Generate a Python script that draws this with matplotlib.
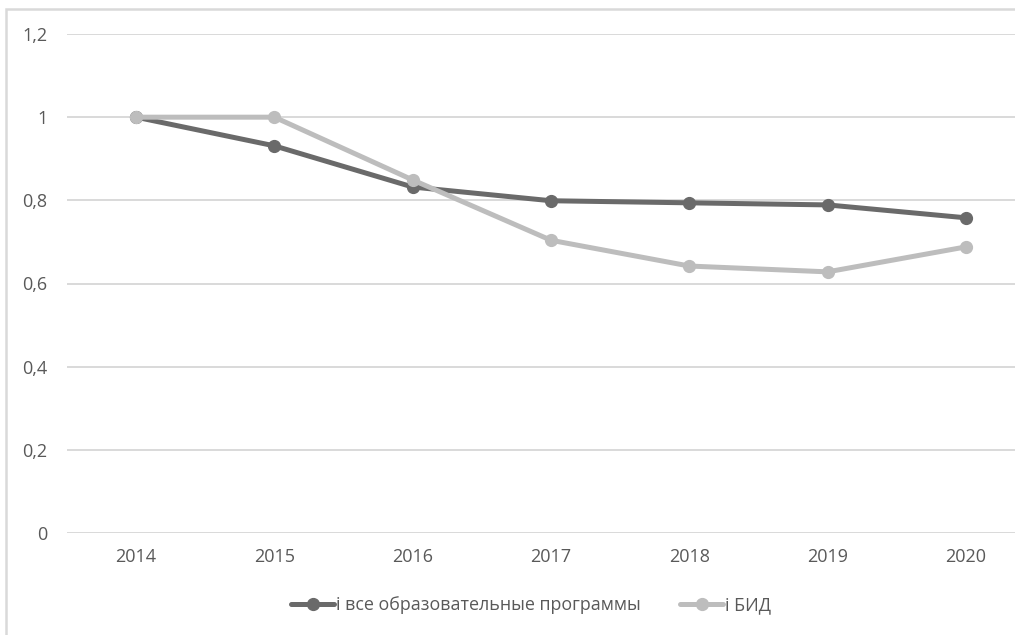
import matplotlib
matplotlib.use("Agg")
import matplotlib.pyplot as plt
from matplotlib.patches import Rectangle

plt.rcParams['font.family'] = ['Open Sans', 'DejaVu Sans']

years = ['2014', '2015', '2016', '2017', '2018', '2019', '2020']
all_programs = [1.0, 0.931, 0.832, 0.799, 0.794, 0.789, 0.758]
bid = [1.0, 1.0, 0.849, 0.704, 0.642, 0.628, 0.688]
series_names = ['і все образовательные программы', 'і БИД']
y_ticks = [0, 0.2, 0.4, 0.6, 0.8, 1.0, 1.2]
y_tick_labels = ['0', '0,2', '0,4', '0,6', '0,8', '1', '1,2']

W, H = 1015, 635
fig = plt.figure(figsize=(W / 100, H / 100), dpi=100)
fig.patch.set_facecolor('white')

# outer chart frame
fig.patches.append(Rectangle((6 / W, -0.1), 1.2, (H - 9) / H + 0.1,
                             transform=fig.transFigure, fill=False,
                             edgecolor='#d9d9d9', linewidth=1.8))

left, right = 67, 1035
bottom, top = 533, 34
ax = fig.add_axes([left / W, (H - bottom) / H, (right - left) / W, (bottom - top) / H])
ax.set_facecolor('none')

x = list(range(len(years)))
dark = '#6a6a6a'
light = '#bdbdbd'
ax.plot(x, all_programs, color=dark, linewidth=3.6, marker='o', markersize=8.5,
        label=series_names[0], solid_capstyle='round', zorder=3)
ax.plot(x, bid, color=light, linewidth=3.6, marker='o', markersize=8.5,
        label=series_names[1], solid_capstyle='round', zorder=4)

ax.set_xlim(-0.5, len(years) - 0.5)
ax.set_ylim(0, 1.2)
ax.set_yticks(y_ticks)
ax.set_yticklabels(y_tick_labels)
ax.set_xticks(x)
ax.set_xticklabels(years)
ax.grid(axis='y', color='#d9d9d9', linewidth=1.4)
ax.set_axisbelow(True)
for s in ax.spines.values():
    s.set_visible(False)
ax.tick_params(axis='both', length=0, labelsize=13, colors='#595959')
ax.tick_params(axis='y', pad=14)
ax.tick_params(axis='x', pad=11)

fig.legend(loc='center', bbox_to_anchor=(531 / W, (H - 605) / H), ncol=2,
           frameon=False, fontsize=12.9, handlelength=2.4, handletextpad=0.1,
           columnspacing=2.2, labelcolor='#595959')

fig.savefig('out.png', dpi=100, facecolor='white')
